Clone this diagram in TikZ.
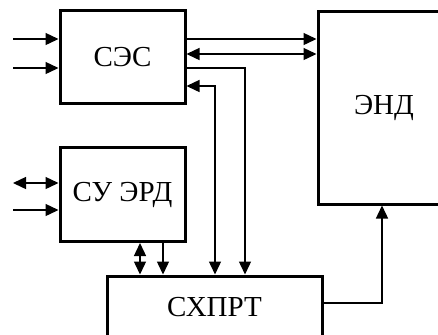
\documentclass[tikz,border=0pt]{standalone}
\usepackage{fontspec}
\setmainfont{Liberation Serif}
\usetikzlibrary{arrows.meta, positioning}

\begin{document}
\begin{tikzpicture}[
    x=0.5pt, y=-0.5pt,
    >={Triangle[length=6.5pt, width=6pt]},
    every node/.style={font=\fontsize{14.5}{17}\selectfont},
    block/.style={rectangle, draw, line width=1.5pt, fill=white,
                  inner sep=0pt, align=center},
    arrow/.style={->, line width=0.7pt},
    biarrow/.style={<->, line width=0.7pt}
]
\clip (0,0) rectangle (438,334);

% Блоки
\node[block, minimum width=62.5pt, minimum height=46.5pt] (ses) at (122.5,57) {СЭС};
\node[block, minimum width=62.5pt, minimum height=47pt] (suerd) at (122.5,194.5) {СУ ЭРД};
\node[block, minimum width=107.5pt, minimum height=31pt] (shprt) at (214.5,307) {СХПРТ};
\node[block, minimum width=66pt, minimum height=96.5pt] (end) at (384,107.5) {ЭНД};

% Входы
\coordinate (in1) at (13,39);
\coordinate (in2) at (13,68);
\coordinate (in3) at (13,183);
\coordinate (in4) at (13,210);
\draw[arrow]   (in1) -- (in1 -| ses.west);
\draw[arrow]   (in2) -- (in2 -| ses.west);
\draw[biarrow] (in3) -- (in3 -| suerd.west);
\draw[arrow]   (in4) -- (in4 -| suerd.west);

% СЭС -- ЭНД
\coordinate (m) at (0,54);
\draw[arrow]   (ses.east |- in1) -- (end.west |- in1);
\draw[biarrow] (ses.east |- m) -- (end.west |- m);

% СЭС -- СХПРТ
\coordinate (k1) at (215,86);
\coordinate (k2) at (245,68);
\draw[arrow]   (ses.east |- k2) -| (k2 |- shprt.north);
\draw[biarrow] (k1 -| ses.east) -| (k1 |- shprt.north);

% СУ ЭРД -- СХПРТ
\coordinate (d1) at (140,0);
\coordinate (d2) at (163,0);
\draw[biarrow] (suerd.south -| d1) -- (shprt.north -| d1);
\draw[arrow]   (suerd.south -| d2) -- (shprt.north -| d2);

% СХПРТ -- ЭНД
\coordinate (r) at (382,303);
\draw[arrow] (shprt.east |- r) -| (end.south -| r);

\end{tikzpicture}
\end{document}
